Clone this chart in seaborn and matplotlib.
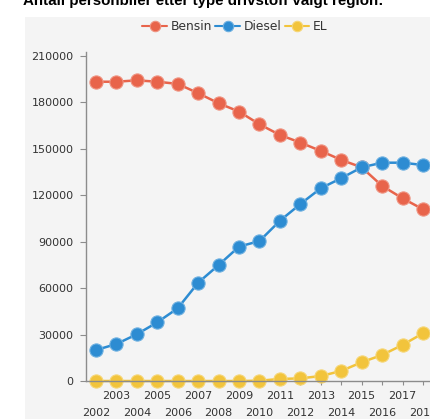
import matplotlib
matplotlib.use('Agg')
import matplotlib.pyplot as plt
import seaborn as sns
import pandas as pd
import numpy as np
from matplotlib.patches import Rectangle
from matplotlib.colors import to_rgb

# Antall personbiler etter drivstoff
years = list(range(2002, 2019))
bensin = [193300, 193300, 194200, 193300, 191900, 185900, 179400, 174000, 165800,
          158900, 154000, 148600, 142800, 138000, 126000, 118000, 110900]
diesel = [20000, 23900, 30200, 37900, 47000, 63500, 74900, 86800, 90400,
          103500, 114300, 124500, 131000, 138000, 141000, 141000, 139500]
el = [0, 0, 0, 0, 0, 0, 0, 0, 200,
      1300, 1700, 3200, 6500, 12100, 16800, 23300, 30800]
fuel_types = ['Bensin', 'Diesel', 'EL']
colors = {'Bensin': '#e8644b', 'Diesel': '#2d8cd2', 'EL': '#f2c43c'}
y_ticks = list(range(0, 210001, 30000))

df = pd.DataFrame({'year': years * 3,
                   'antall': bensin + diesel + el,
                   'type': np.repeat(fuel_types, len(years))})

sns.set_style('white')
plt.rcParams['font.family'] = ['DejaVu Sans']

W, H = 430, 419
fig = plt.figure(figsize=(W / 100, H / 100), dpi=100)
fig.patch.set_facecolor('white')

bg = '#f4f4f4'
fig.patches.append(Rectangle((25 / W, 0), 1 - 25 / W, 1 - 17 / H,
                             transform=fig.transFigure, facecolor=bg,
                             edgecolor='none', zorder=-5))

fig.text(23 / W, 1 - 5.5 / H, 'Antall personbiler etter type drivstoff valgt region:',
         fontsize=10.9, fontweight='bold', color='black', va='baseline', ha='left',
         family=['Liberation Sans', 'DejaVu Sans'])

ax = fig.add_axes([86 / W, (H - 381) / H, (W - 86) / W, (381 - 52) / H])
ax.set_facecolor(bg)

sns.lineplot(data=df, x='year', y='antall', hue='type', hue_order=fuel_types,
             palette=colors, marker='o', markersize=9.5, linewidth=1.8,
             markeredgewidth=0.8, ax=ax)

# lighter ring around markers
for line in ax.lines:
    c = np.array(to_rgb(line.get_color()))
    line.set_markeredgecolor(tuple(c + (1 - c) * 0.3))
    line.set_clip_on(False)

ax.set_xlim(2001.511, 2018.343)
ax.set_ylim(0, 212500)
ax.set_yticks(y_ticks)
ax.set_yticklabels([str(v) for v in y_ticks])

# odd years on the first row, even years on the second row
odd_years = [y for y in years if y % 2]
even_years = [y for y in years if not y % 2]
ax.set_xticks(odd_years)
ax.set_xticklabels([str(y) for y in odd_years])
ax.set_xticks(even_years, minor=True)
ax.set_xticklabels([str(y) for y in even_years], minor=True)

ax.set_xlabel('')
ax.set_ylabel('')
for side in ['top', 'right']:
    ax.spines[side].set_visible(False)
for side in ['left', 'bottom']:
    ax.spines[side].set_color('#8c8c8c')
    ax.spines[side].set_linewidth(1.0)

ax.tick_params(axis='y', direction='out', length=4, width=0.8, color='#8c8c8c',
               pad=5, labelsize=8, labelcolor='#333333', left=True)
ax.tick_params(axis='x', which='major', direction='out', length=3, width=0.8,
               color='#8c8c8c', pad=4, labelsize=8, labelcolor='#333333', bottom=True)
ax.tick_params(axis='x', which='minor', direction='out', length=3, width=0.8,
               color='#8c8c8c', pad=16.5, labelsize=8, labelcolor='#333333', bottom=True)

handles, labels = ax.get_legend_handles_labels()
leg = ax.legend(handles, labels, loc='center', bbox_to_anchor=(235 / W, 1 - 27 / H),
                bbox_transform=fig.transFigure, ncol=3, frameon=False, fontsize=8.8,
                handlelength=2.0, handletextpad=0.3, columnspacing=0.3,
                labelcolor='#333333')
for h in leg.legend_handles:
    h.set_markersize(7.5)
    h.set_linewidth(1.5)

fig.savefig('out.png', dpi=100, facecolor=fig.get_facecolor())
